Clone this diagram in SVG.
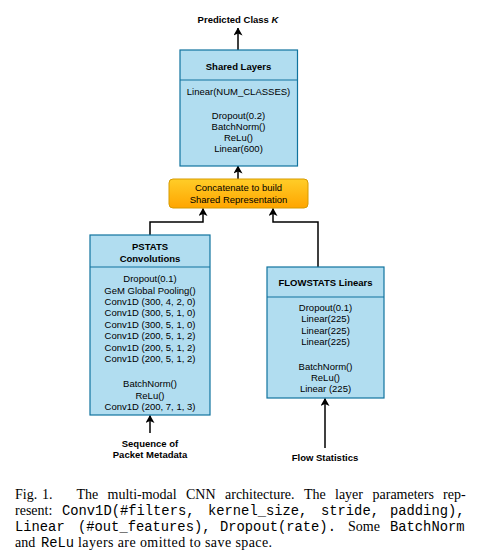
<svg xmlns="http://www.w3.org/2000/svg" width="486" height="558" viewBox="0 0 486 558">
<defs>
<marker id="ah" markerWidth="8" markerHeight="9" refX="7.5" refY="4.5" orient="auto" markerUnits="userSpaceOnUse">
<path d="M0,0 L8,4.5 L0,9 L2,4.5 Z" fill="#000"/>
</marker>
<linearGradient id="og" x1="0" y1="0" x2="0" y2="1">
<stop offset="0" stop-color="#ffcd28"/>
<stop offset="1" stop-color="#ffa500"/>
</linearGradient>
<style>
.box{fill:#b1ddf0;stroke:#10739e;stroke-width:1.2}
.div{stroke:#10739e;stroke-width:1.2}
.t{font-family:"Liberation Sans",Arial,sans-serif;font-size:9.5px;fill:#000;text-anchor:middle}
.b{font-weight:bold}
.c{stroke:#000;stroke-width:1.5;fill:none}
.cap{font-family:"Liberation Serif","Times New Roman",serif;font-size:14px;fill:#000}
.mono{font-family:"Liberation Mono","Courier New",monospace;font-size:13.8px;fill:#000}
</style>
</defs>
<rect width="486" height="558" fill="#fff"/>

<g id="connectors">
<path class="c" d="M238,50 L238,28" marker-end="url(#ah)"/>
<path class="c" d="M238,179 L238,166" marker-end="url(#ah)"/>
<path class="c" d="M150,235 L150,222 L203,222 L203,208.5" marker-end="url(#ah)"/>
<path class="c" d="M318,267 L318,222 L273,222 L273,208.5" marker-end="url(#ah)"/>
<path class="c" d="M150,433 L150,415.5" marker-end="url(#ah)"/>
<path class="c" d="M325,448 L325,398.5" marker-end="url(#ah)"/>
</g>

<g id="predicted">
<text class="t b" x="238" y="22.5">Predicted Class <tspan font-style="italic">K</tspan></text>
</g>

<g id="shared">
<rect class="box" x="180" y="50" width="117.5" height="116"/>
<line class="div" x1="180" y1="80" x2="297.5" y2="80"/>
<text class="t b" x="238.5" y="69.5">Shared Layers</text>
<text class="t" x="238.5" y="95">Linear(NUM_CLASSES)</text>
<text class="t" x="238.5" y="118.5">Dropout(0.2)</text>
<text class="t" x="238.5" y="129.5">BatchNorm()</text>
<text class="t" x="238.5" y="140.5">ReLu()</text>
<text class="t" x="238.5" y="151.5">Linear(600)</text>
</g>

<g id="concat">
<rect x="169" y="179" width="139" height="29" rx="4" ry="4" fill="url(#og)" stroke="#d79b00" stroke-width="1"/>
<text class="t" x="238.5" y="190.5">Concatenate to build</text>
<text class="t" x="238.5" y="203">Shared Representation</text>
</g>

<g id="pstats">
<rect class="box" x="90" y="235" width="120" height="180"/>
<line class="div" x1="90" y1="267" x2="210" y2="267"/>
<text class="t b" x="150" y="249.5">PSTATS</text>
<text class="t b" x="150" y="261.5">Convolutions</text>
<text class="t" x="150" y="281.5">Dropout(0.1)</text>
<text class="t" x="150" y="293.5">GeM Global Pooling()</text>
<text class="t" x="150" y="304.5">Conv1D (300, 4, 2, 0)</text>
<text class="t" x="150" y="316">Conv1D (300, 5, 1, 0)</text>
<text class="t" x="150" y="327.5">Conv1D (300, 5, 1, 0)</text>
<text class="t" x="150" y="339">Conv1D (200, 5, 1, 2)</text>
<text class="t" x="150" y="350.5">Conv1D (200, 5, 1, 2)</text>
<text class="t" x="150" y="362">Conv1D (200, 5, 1, 2)</text>
<text class="t" x="150" y="387">BatchNorm()</text>
<text class="t" x="150" y="398.5">ReLu()</text>
<text class="t" x="150" y="409.5">Conv1D (200, 7, 1, 3)</text>
</g>

<g id="flowstats">
<rect class="box" x="267" y="267" width="117" height="131"/>
<line class="div" x1="267" y1="297" x2="384" y2="297"/>
<text class="t b" x="325.5" y="285.5">FLOWSTATS Linears</text>
<text class="t" x="325.5" y="310.5">Dropout(0.1)</text>
<text class="t" x="325.5" y="322">Linear(225)</text>
<text class="t" x="325.5" y="333.5">Linear(225)</text>
<text class="t" x="325.5" y="344.5">Linear(225)</text>
<text class="t" x="325.5" y="369.5">BatchNorm()</text>
<text class="t" x="325.5" y="380.5">ReLu()</text>
<text class="t" x="325.5" y="391.5">Linear (225)</text>
</g>

<g id="seq">
<text class="t b" x="150" y="446.5">Sequence of</text>
<text class="t b" x="150" y="457.5">Packet Metadata</text>
</g>

<g id="flowlabel">
<text class="t b" x="325" y="460.5">Flow Statistics</text>
</g>

<g id="caption">
<text class="cap" x="15" y="498.5">Fig.</text>
<text class="cap" x="42" y="498.5">1.</text>
<text class="cap" x="76.5" y="498.5">The</text>
<text class="cap" x="107.5" y="498.5">multi-modal</text>
<text class="cap" x="186" y="498.5">CNN</text>
<text class="cap" x="225" y="498.5">architecture.</text>
<text class="cap" x="304" y="498.5">The</text>
<text class="cap" x="335" y="498.5">layer</text>
<text class="cap" x="372.5" y="498.5">parameters</text>
<text class="cap" x="443" y="498.5">rep-</text>

<text class="cap" x="15" y="514.5">resent:</text>
<text class="mono" x="62" y="514.5">Conv1D(#filters,</text>
<text class="mono" x="208" y="514.5">kernel_size,</text>
<text class="mono" x="321" y="514.5">stride,</text>
<text class="mono" x="390" y="514.5">padding),</text>

<text class="mono" x="15" y="530.5">Linear</text>
<text class="mono" x="78" y="530.5">(#out_features),</text>
<text class="mono" x="220" y="530.5">Dropout(rate).</text>
<text class="cap" x="348" y="530.5">Some</text>
<text class="mono" x="390" y="530.5">BatchNorm</text>

<text class="cap" x="15" y="546.5">and</text>
<text class="mono" x="41" y="546.5">ReLu</text>
<text class="cap" x="78" y="546.5" textLength="194" lengthAdjust="spacing">layers are omitted to save space.</text>
</g>
</svg>
